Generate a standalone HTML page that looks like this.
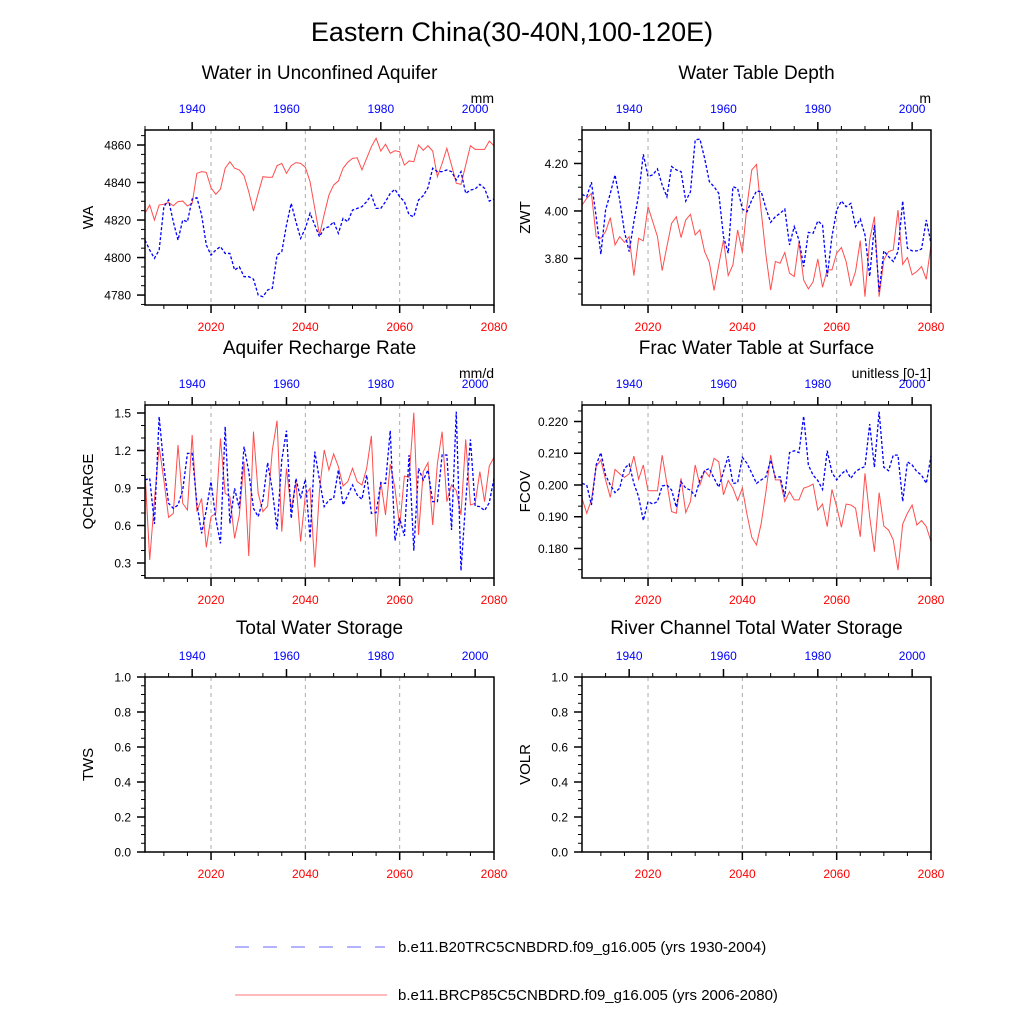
<!DOCTYPE html>
<html><head><meta charset="utf-8">
<style>
html,body{margin:0;padding:0;background:#fff;}
svg{display:block;font-family:"Liberation Sans",Arial,sans-serif;}
</style></head>
<body>
<svg id="chart" width="1024" height="1024" viewBox="0 0 1024 1024" xmlns="http://www.w3.org/2000/svg">
<text x="512" y="41" font-size="27" text-anchor="middle">Eastern China(30-40N,100-120E)</text>
<g>
<line x1="235" y1="947" x2="385" y2="947" stroke="#6666ff" stroke-width="1" stroke-dasharray="14,14"/>
<text x="398" y="952" font-size="15">b.e11.B20TRC5CNBDRD.f09_g16.005 (yrs 1930-2004)</text>
<line x1="235" y1="995" x2="387" y2="995" stroke="#ff7777" stroke-width="1"/>
<text x="398" y="1000" font-size="15">b.e11.BRCP85C5CNBDRD.f09_g16.005 (yrs 2006-2080)</text>
</g>
</svg>
<script>
const futureYears=[];for(let y=2006;y<=2080;y++)futureYears.push(y);
const bottomTickLabels=["2020","2040","2060","2080"];
const topTickLabels=["1940","1960","1980","2000"];
const waFuture=[4823.6,4828,4820,4828,4828.4,4829.4,4827.6,4829.8,4830.1,4827.5,4828.9,4844.9,4845.8,4845.4,4837.2,4833.7,4836.5,4847.6,4851.1,4847.6,4846.7,4843.6,4835.1,4824.8,4834.2,4843.1,4842.8,4842.8,4849,4850.2,4844.9,4849,4850.6,4850.2,4848.1,4840.4,4826.2,4812,4823,4833.3,4838.7,4840.8,4847.6,4850.8,4852.9,4853.2,4846.7,4852.9,4859.1,4863.6,4856.8,4860.4,4855.6,4857,4856.4,4849.3,4851.5,4851.1,4860,4857.2,4859.6,4856.8,4843.1,4850.2,4858.2,4849.3,4839.6,4839,4849.3,4859.6,4857.7,4857.7,4857.7,4862.1,4859.6];
const waHist=[4809.3,4804,4799.6,4804,4827.1,4830.7,4819.1,4809.3,4820,4819.1,4831.2,4831.9,4822.7,4806.7,4801.3,4804,4805.8,4802.2,4802.2,4793.3,4795.1,4789.8,4789.8,4788.5,4780,4779.1,4782.7,4783.6,4801.3,4803.1,4817.3,4828.9,4819.1,4810.2,4815.6,4823.6,4817.3,4811.1,4815.6,4816.4,4819.1,4812.9,4820.9,4819.1,4825.3,4826.2,4827.1,4829.8,4833.3,4826.2,4826.2,4829.8,4834.2,4836.4,4832.4,4829.8,4822.7,4821.8,4830.7,4833,4837.2,4847.6,4845.8,4845.8,4846.7,4845.8,4841.3,4845.8,4834.2,4836,4836.5,4839,4836.9,4830.1,4831.2];
const zwtFuture=[4.025,4.053,4.074,3.892,3.885,3.913,3.972,3.857,3.892,3.868,3.892,3.728,3.885,3.874,4.018,3.955,3.892,3.749,3.850,3.948,3.976,3.888,3.962,3.986,3.899,3.920,3.829,3.784,3.665,3.773,3.878,3.728,3.773,3.920,3.826,4.025,4.173,4.196,3.997,3.815,3.667,3.787,3.780,3.825,3.738,3.724,3.868,3.709,3.672,3.702,3.798,3.679,3.752,3.752,3.822,3.846,3.787,3.684,3.745,3.875,3.639,3.878,3.976,3.639,3.794,3.829,3.836,4.004,3.775,3.804,3.731,3.745,3.766,3.712,3.857];
const zwtHist=[4.070,4.060,4.121,3.976,3.818,4.004,4.074,4.152,4.046,3.913,3.829,3.955,4.067,4.239,4.145,4.152,4.177,4.109,4.060,4.187,4.173,4.166,4.042,4.081,4.299,4.303,4.222,4.124,4.102,4.074,3.892,3.822,4.102,4.095,4.008,3.997,4.046,4.084,4.081,4.011,3.952,3.976,3.990,4.008,3.857,3.934,3.878,3.766,3.910,3.906,3.958,3.941,3.724,3.892,4.004,4.042,4.018,4.032,3.934,3.966,3.899,3.724,3.941,3.660,3.832,3.808,3.787,3.829,4.042,3.843,3.832,3.832,3.840,3.962,3.864];
const qchFuture=[1.031,0.324,0.804,1.231,0.964,0.665,0.697,1.244,0.777,0.724,1.324,0.711,0.817,0.425,0.671,0.697,1.297,0.857,0.831,0.497,0.684,1.111,0.356,1.351,0.857,0.711,0.756,1.204,1.439,0.551,1.057,0.724,0.951,0.471,0.844,0.897,0.265,0.884,1.204,1.044,1.172,1.071,0.916,0.951,1.057,0.951,0.924,1.057,1.316,0.511,0.951,0.684,1.092,0.897,0.591,0.996,0.985,1.503,0.524,1.031,1.103,0.604,1.097,1.351,0.791,0.924,0.879,0.684,1.289,0.764,0.777,1.031,0.791,1.076,1.145];
const qchHist=[0.964,0.977,0.612,1.471,1.071,0.777,0.737,0.764,0.884,1.177,1.177,0.777,0.537,0.724,0.951,0.657,0.457,1.391,0.617,0.897,0.737,1.231,1.031,0.737,0.671,0.804,1.103,0.884,0.569,1.124,1.359,0.657,0.977,0.817,0.969,0.497,1.191,0.964,0.751,0.804,0.817,1.044,0.764,0.844,0.924,0.844,0.809,1.004,0.697,0.703,0.943,0.937,1.359,0.479,0.657,0.516,1.164,0.399,1.057,0.964,1.044,0.791,0.791,1.164,1.164,0.564,1.511,0.239,0.791,1.289,0.756,0.751,0.719,0.783,0.977];
const fcovFuture=[0.1958,0.1911,0.1953,0.2058,0.2079,0.2016,0.1961,0.2049,0.2035,0.2024,0.2035,0.2091,0.2018,0.2063,0.1982,0.1982,0.1982,0.2094,0.2005,0.1916,0.1911,0.2021,0.1913,0.1948,0.2063,0.2,0.2045,0.2026,0.2084,0.2073,0.1969,0.2014,0.1990,0.1951,0.1990,0.1906,0.1835,0.1811,0.1879,0.1979,0.2094,0.2016,0.2016,0.1948,0.1979,0.1953,0.1953,0.1990,0.1995,0.2003,0.1921,0.1940,0.1869,0.1986,0.1932,0.1867,0.1940,0.1937,0.1927,0.1837,0.2037,0.1900,0.1790,0.1976,0.1871,0.1858,0.1827,0.1732,0.1877,0.1911,0.1937,0.1874,0.1888,0.1869,0.1822];
const fcovHist=[0.2005,0.2,0.1937,0.2063,0.2102,0.2031,0.2,0.1976,0.1990,0.2052,0.2066,0.2005,0.1963,0.1888,0.1948,0.1940,0.1948,0.1997,0.2,0.1984,0.1930,0.2010,0.1990,0.1984,0.1965,0.2016,0.2045,0.2052,0.2021,0.1993,0.2042,0.2091,0.2005,0.2007,0.2087,0.2068,0.2037,0.2005,0.2016,0.2026,0.2079,0.2024,0.2026,0.1963,0.2102,0.2108,0.2102,0.2217,0.2063,0.2031,0.2014,0.1986,0.2108,0.2039,0.2016,0.2035,0.2047,0.2021,0.2042,0.2052,0.2058,0.2192,0.2056,0.2231,0.2056,0.2045,0.2094,0.2094,0.1948,0.2073,0.2063,0.2042,0.2031,0.2005,0.2091];
const waTicks=["4780","4800","4820","4840","4860"];
const zwtTicks=["3.80","4.00","4.20"];
const qchTicks=["0.3","0.6","0.9","1.2","1.5"];
const fcovTicks=["0.180","0.190","0.200","0.210","0.220"];
const emptyTicks=["0.0","0.2","0.4","0.6","0.8","1.0"];

const NS="http://www.w3.org/2000/svg";
const svg=document.getElementById('chart');
function mk(tag,attrs,parent){const e=document.createElementNS(NS,tag);for(const k in attrs)e.setAttribute(k,attrs[k]);(parent||svg).appendChild(e);return e;}

const panels=[
 {name:'wa',title:'Water in Unconfined Aquifer',units:'mm',ylab:'WA',x0:145,y0:130,h:175,ymin:4774.7,ymax:4868,ticks:waTicks,minor:5,fut:waFuture,hist:waHist},
 {name:'zwt',title:'Water Table Depth',units:'m',ylab:'ZWT',x0:582,y0:130,h:175,ymin:3.604,ymax:4.341,ticks:zwtTicks,minor:0.05,fut:zwtFuture,hist:zwtHist},
 {name:'qcharge',title:'Aquifer Recharge Rate',units:'mm/d',ylab:'QCHARGE',x0:145,y0:405,h:173,ymin:0.18,ymax:1.564,ticks:qchTicks,minor:0.1,fut:qchFuture,hist:qchHist},
 {name:'fcov',title:'Frac Water Table at Surface',units:'unitless [0-1]',ylab:'FCOV',x0:582,y0:405,h:173,ymin:0.1707,ymax:0.2252,ticks:fcovTicks,minor:0.0033333,fut:fcovFuture,hist:fcovHist},
 {name:'tws',title:'Total Water Storage',units:'',ylab:'TWS',x0:145,y0:677,h:175,ymin:0,ymax:1,ticks:emptyTicks,minor:0.05,fut:null,hist:null},
 {name:'volr',title:'River Channel Total Water Storage',units:'',ylab:'VOLR',x0:582,y0:677,h:175,ymin:0,ymax:1,ticks:emptyTicks,minor:0.05,fut:null,hist:null}
];
const W=349;
panels.forEach(p=>{
 const g=mk('g',{});
 
 
 const xB=yr=>p.x0+(yr-2006)/74*W;
 const xT=yr=>p.x0+(yr-1930)/74*W;
 const yS=v=>p.y0+p.h-(v-p.ymin)/(p.ymax-p.ymin)*p.h;
 const cx=p.x0+W/2, bot=p.y0+p.h;
 const t=mk('text',{x:cx,y:p.y0-(p.name==='tws'||p.name==='volr'?43:51),'font-size':19,'text-anchor':'middle'},g);
 t.textContent=p.title;
 if(p.units){const u=mk('text',{x:p.x0+W,y:p.y0-27,'font-size':14,'text-anchor':'end'},g);
  u.textContent=p.units;}
 const yl=mk('text',{x:0,y:0,'font-size':15,'text-anchor':'middle',transform:`translate(${p.x0-52},${p.y0+p.h/2}) rotate(-90)`},g);
 yl.textContent=p.ylab;
 [2020,2040,2060].forEach(yr=>{const l=mk('line',{x1:xB(yr),x2:xB(yr),y1:p.y0,y2:bot,stroke:'#aaa','stroke-width':1,'stroke-dasharray':'4,4'},g);
  });
 for(let yr=2010;yr<=2080;yr+=5){const maj=yr%20===0;mk('line',{x1:xB(yr),x2:xB(yr),y1:bot,y2:bot+(maj?8:4),stroke:'#000','stroke-width':maj?1.5:1},g);}
 bottomTickLabels.forEach(s=>{const tx=mk('text',{x:xB(+s),y:bot+26,'font-size':12,fill:'#ff0000','text-anchor':'middle'},g);
  tx.textContent=s;});
 for(let yr=1930;yr<=2004;yr+=5){const maj=yr%20===0;mk('line',{x1:xT(yr),x2:xT(yr),y1:p.y0,y2:p.y0-(maj?8:4),stroke:'#000','stroke-width':maj?1.5:1},g);}
 topTickLabels.forEach(s=>{const tx=mk('text',{x:xT(+s),y:p.y0-17,'font-size':12,fill:'#0000ff','text-anchor':'middle'},g);
  tx.textContent=s;});
 const maj=p.ticks.map(Number);
 for(let v=maj[0]-Math.floor((maj[0]-p.ymin)/p.minor)*p.minor;v<=p.ymax+1e-9;v+=p.minor){
  const isMaj=maj.some(m=>Math.abs(m-v)<p.minor*0.3);if(isMaj)continue;
  mk('line',{x1:p.x0,x2:p.x0-4,y1:yS(v),y2:yS(v),stroke:'#000','stroke-width':1},g);}
 p.ticks.forEach(s=>{const v=+s;mk('line',{x1:p.x0,x2:p.x0-8,y1:yS(v),y2:yS(v),stroke:'#000','stroke-width':1.5},g);
  const tx=mk('text',{x:p.x0-14,y:yS(v)+4.5,'font-size':12,'text-anchor':'end'},g);
  tx.textContent=s;});
 if(p.fut){
  const pf=mk('polyline',{points:p.fut.map((v,i)=>xB(futureYears[i])+','+yS(v)).join(' '),fill:'none',stroke:'#ff4d4d','stroke-width':1},g);
  
  const ph=mk('polyline',{points:p.hist.map((v,i)=>xT(futureYears[i]-76)+','+yS(v)).join(' '),fill:'none',stroke:'#0000ff','stroke-width':1.3,'stroke-dasharray':'3,2'},g);
  
 }
 const fr=mk('rect',{x:p.x0,y:p.y0,width:W,height:p.h,fill:'none',stroke:'#000','stroke-width':1.5},g);
 
});
</script>
</body></html>
